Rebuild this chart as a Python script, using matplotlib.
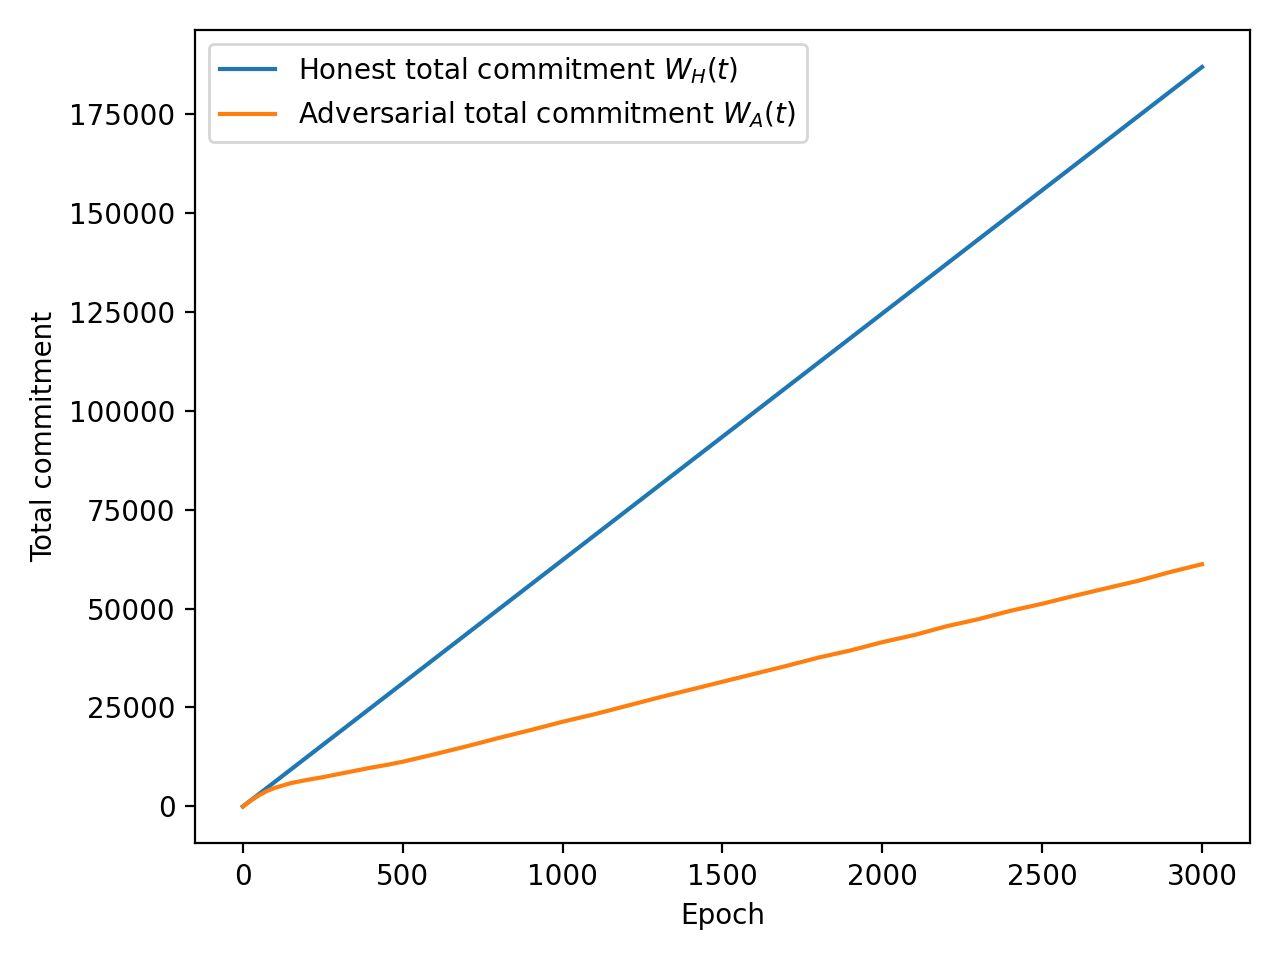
import matplotlib
matplotlib.use("Agg")
import matplotlib.pyplot as plt

epochs_h = [0, 500, 1000, 1500, 2000, 2500, 3000]
honest = [0, 31130, 62260, 93390, 124520, 155650, 186780]

epochs_a = [0, 25, 50, 75, 100, 150, 200, 250, 300, 350, 400, 450, 500,
            600, 700, 800, 900, 1000, 1100, 1200, 1300, 1400, 1500, 1600,
            1700, 1800, 1900, 2000, 2100, 2200, 2300, 2400, 2500, 2600,
            2700, 2800, 2900, 3000]
adversarial = [0, 1500, 2800, 3900, 4700, 5900, 6700, 7400, 8200, 9000, 9800,
               10500, 11300, 13200, 15200, 17300, 19300, 21400, 23300, 25400,
               27500, 29500, 31500, 33500, 35500, 37600, 39400, 41500, 43300,
               45500, 47300, 49400, 51200, 53200, 55100, 57000, 59200, 61200]

fig, ax = plt.subplots(figsize=(6.4, 4.8), dpi=200)
ax.plot(epochs_h, honest, label=r"Honest total commitment $W_H(t)$")
ax.plot(epochs_a, adversarial, label=r"Adversarial total commitment $W_A(t)$")
ax.set_xlabel("Epoch")
ax.set_ylabel("Total commitment")
ax.legend(loc="upper left")
fig.tight_layout()
fig.savefig("out.png")
